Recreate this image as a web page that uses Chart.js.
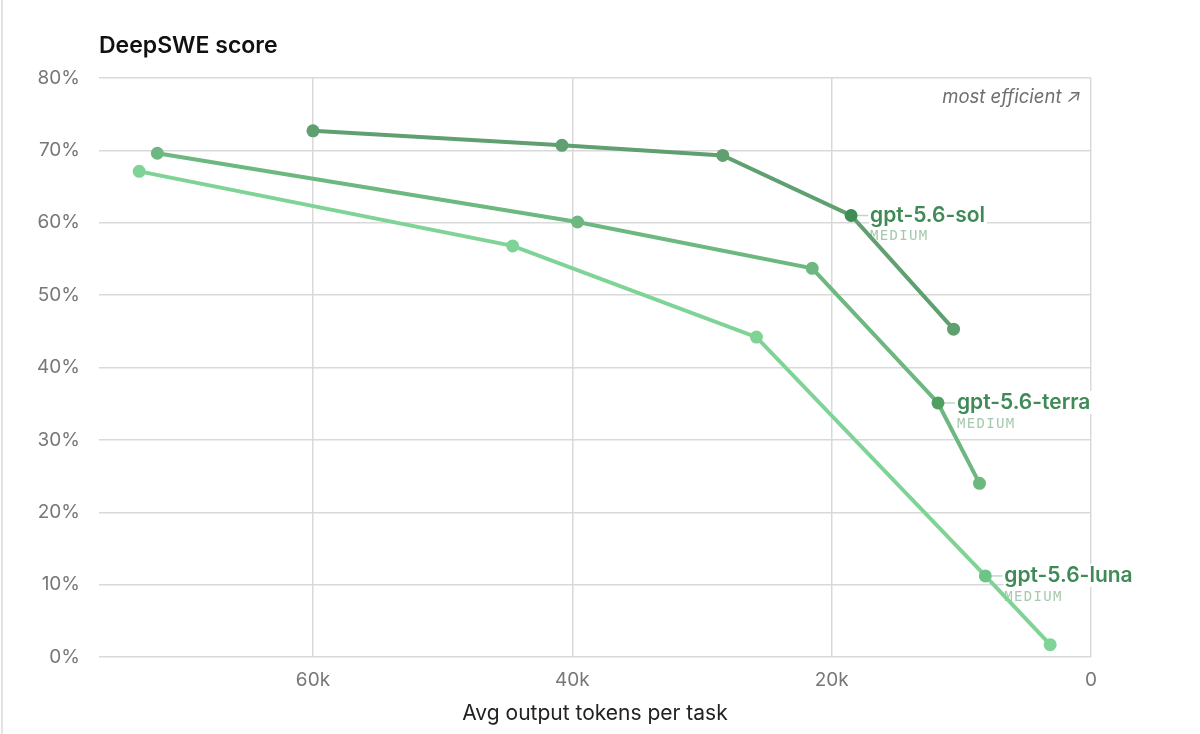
<!DOCTYPE html>
<html>
<head>
<meta charset="utf-8">
<script src="https://cdn.jsdelivr.net/npm/chart.js@4.4.1/dist/chart.umd.min.js"></script>
<style>
  body { margin: 0; background: #fff; }
  #wrap { position: relative; width: 1200px; height: 734px; }
</style>
</head>
<body>
<div id="wrap"><canvas id="deepsweChart" width="1200" height="734"></canvas></div>
<script>
// tokens per task (x) and DeepSWE score % (y)
const solTokens = [60000, 40800, 28400, 18500, 10600];
const solScore = [72.7, 70.7, 69.3, 61.0, 45.3];
const terraTokens = [72000, 39600, 21500, 11800, 8600];
const terraScore = [69.6, 60.1, 53.7, 35.1, 24.0];
const lunaTokens = [73400, 44600, 25800, 8150, 3150];
const lunaScore = [67.1, 56.8, 44.2, 11.2, 1.7];

const modelNames = ['gpt-5.6-sol', 'gpt-5.6-terra', 'gpt-5.6-luna'];
const effortLabel = 'MEDIUM';
const labeledIndex = [3, 3, 3];

const yTicks = [0, 10, 20, 30, 40, 50, 60, 70, 80];
const xTicks = [0, 20000, 40000, 60000];

const FONT = 'Inter, "Helvetica Neue", Arial, sans-serif';

function toPoints(xs, ys) {
    return xs.map((x, i) => ({ x: x, y: ys[i] }));
}

function pointColors(n, idx, base, strong) {
    const arr = [];
    for (let i = 0; i < n; i++) arr.push(i === idx ? strong : base);
    return arr;
}

const lineColors = ['#5f9f70', '#6cb880', '#80d396'];
const strongColors = ['#3f8c56', '#4f9f63', '#6cc585'];

const series = [
    { label: modelNames[0], data: toPoints(solTokens, solScore) },
    { label: modelNames[1], data: toPoints(terraTokens, terraScore) },
    { label: modelNames[2], data: toPoints(lunaTokens, lunaScore) }
];

const datasets = series.map((s, i) => ({
    label: s.label,
    data: s.data,
    borderColor: lineColors[i],
    backgroundColor: lineColors[i],
    pointBackgroundColor: pointColors(s.data.length, labeledIndex[i], lineColors[i], strongColors[i]),
    pointBorderWidth: 0,
    pointRadius: 6.5,
    borderWidth: 4,
    tension: 0,
    fill: false
}));

// card edge, chart title and corner note
const framePlugin = {
    id: 'frame',
    beforeDraw(chart) {
        const c = chart.ctx;
        c.save();
        c.fillStyle = '#e4e4e4';
        c.fillRect(1, 0, 2, chart.height);
        c.restore();
    },
    afterDraw(chart) {
        const c = chart.ctx;
        const area = chart.chartArea;
        c.save();
        c.fillStyle = '#111';
        c.font = '600 23px ' + FONT;
        c.textBaseline = 'alphabetic';
        c.textAlign = 'left';
        c.fillText('DeepSWE score', area.left, 53);

        c.fillStyle = '#6e6e6e';
        c.font = 'italic 18.5px ' + FONT;
        c.textAlign = 'right';
        c.textBaseline = 'middle';
        c.fillText('most efficient \u2197', area.right - 10, 97);
        c.restore();
    }
};

// model name labels next to the highlighted point
const labelPlugin = {
    id: 'modelLabels',
    beforeDatasetsDraw(chart) {
        const c = chart.ctx;
        const xs = chart.scales.x, ys = chart.scales.y;
        c.save();
        series.forEach((s, i) => {
            const p = s.data[labeledIndex[i]];
            const px = xs.getPixelForValue(p.x);
            const py = ys.getPixelForValue(p.y);
            const tx = px + 19;
            c.font = '600 21px ' + FONT;
            const w = c.measureText(modelNames[i]).width;
            c.fillStyle = '#fff';
            c.fillRect(tx - 1, py - 12, w + 3, 23);
            c.strokeStyle = '#bcd8c3';
            c.lineWidth = 1.5;
            c.beginPath();
            c.moveTo(px + 6, py);
            c.lineTo(tx - 2, py);
            c.stroke();
            c.fillStyle = '#3f8a56';
            c.textAlign = 'left';
            c.textBaseline = 'middle';
            c.fillText(modelNames[i], tx, py);
            c.font = '14px "DejaVu Sans Mono", "Liberation Mono", monospace';
            c.fillStyle = '#a6c9ae';
            let cx = tx;
            for (const ch of effortLabel) {
                c.fillText(ch, cx, py + 21);
                cx += c.measureText(ch).width + 1.3;
            }
        });
        c.restore();
    }
};

new Chart(document.getElementById('deepsweChart'), {
    type: 'line',
    data: { datasets: datasets },
    options: {
        responsive: false,
        animation: false,
        layout: { padding: { top: 78, right: 109, left: 0, bottom: 0 } },
        plugins: {
            legend: { display: false },
            tooltip: { enabled: false }
        },
        scales: {
            x: {
                type: 'linear',
                reverse: true,
                min: 0,
                max: 76500,
                afterBuildTicks(scale) {
                    scale.ticks = xTicks.map(v => ({ value: v }));
                },
                afterFit(scale) { scale.height = 77; },
                ticks: {
                    includeBounds: false,
                    padding: 12,
                    color: '#777',
                    font: { family: FONT, size: 19 },
                    callback: v => v === 0 ? '0' : (v / 1000) + 'k'
                },
                grid: { color: '#d9d9d9', lineWidth: 1.5, drawTicks: false },
                border: { display: false },
                title: {
                    display: true,
                    text: 'Avg output tokens per task',
                    color: '#222',
                    font: { family: FONT, size: 21 },
                    padding: { top: 4, bottom: 8 }
                }
            },
            y: {
                min: 0,
                max: 80,
                afterBuildTicks(scale) {
                    scale.ticks = yTicks.map(v => ({ value: v }));
                },
                afterFit(scale) { scale.width = 99; },
                ticks: {
                    padding: 19,
                    color: '#777',
                    font: { family: FONT, size: 19 },
                    callback: v => v + '%'
                },
                grid: { color: '#d9d9d9', lineWidth: 1.5, drawTicks: false },
                border: { display: false }
            }
        }
    },
    plugins: [framePlugin, labelPlugin]
});
</script>
</body>
</html>
